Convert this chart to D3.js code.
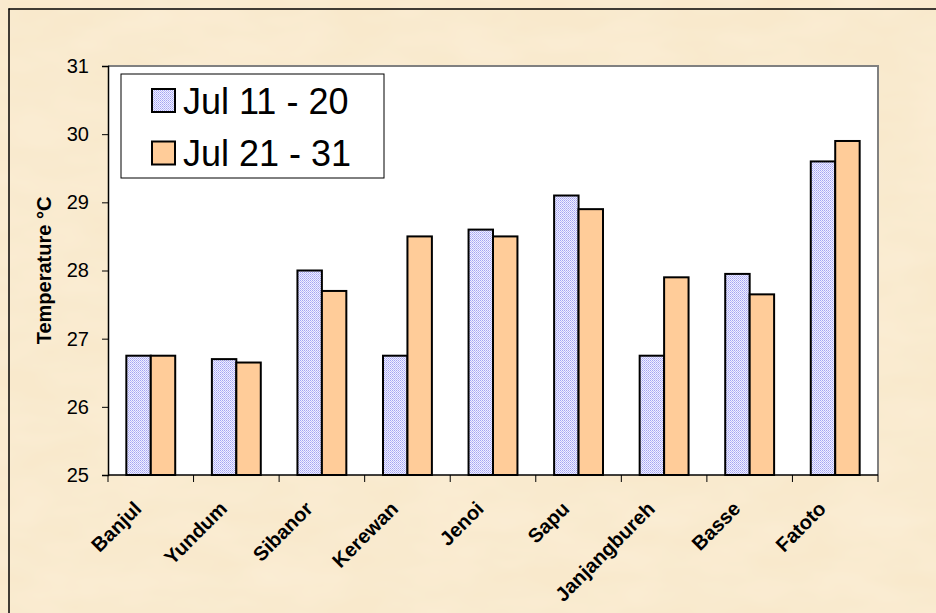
<!DOCTYPE html>
<html><head><meta charset="utf-8">
<script src="https://cdn.jsdelivr.net/npm/d3@7"></script>
<style>html,body{margin:0;padding:0;background:#F9EACF;overflow:hidden}</style>
</head><body>
<svg id="c" width="936" height="613"></svg>
<script>
const categories = ["Banjul","Yundum","Sibanor","Kerewan","Jenoi","Sapu","Janjangbureh","Basse","Fatoto"];
const seriesNames = ["Jul 11 - 20","Jul 21 - 31"];
const jul11_20 = [26.75, 26.7, 28.0, 26.75, 28.6, 29.1, 26.75, 27.95, 29.6];
const jul21_31 = [26.75, 26.65, 27.7, 28.5, 28.5, 28.9, 27.9, 27.65, 29.9];
const yTicks = [25,26,27,28,29,30,31];
const yLabel = "Temperature °C";

const svg = d3.select("#c");
const W = 936, H = 613;
const defs = svg.append("defs");
const FONT = "Arial, 'Liberation Sans', sans-serif";

// parchment texture
const f = defs.append("filter").attr("id","tex").attr("x",0).attr("y",0).attr("width","100%").attr("height","100%");
f.append("feTurbulence").attr("type","fractalNoise").attr("baseFrequency","0.012 0.03").attr("numOctaves",3).attr("seed",4).attr("result","n");
f.append("feColorMatrix").attr("in","n").attr("type","matrix")
  .attr("values","0 0 0 0 1  0 0 0 0 1  0 0 0 0 0.95  0 0 0 0.28 -0.07");
svg.append("rect").attr("width",W).attr("height",H).attr("fill","#F9E9CC");
svg.append("rect").attr("width",W).attr("height",H).attr("filter","url(#tex)");

// blue dotted pattern
const pat = defs.append("pattern").attr("id","bluePat").attr("width",2).attr("height",2).attr("patternUnits","userSpaceOnUse");
pat.append("rect").attr("width",2).attr("height",2).attr("fill","#F0F0FF");
pat.append("rect").attr("x",0).attr("y",0).attr("width",1).attr("height",1).attr("fill","#A4A4F2");
pat.append("rect").attr("x",1).attr("y",1).attr("width",1).attr("height",1).attr("fill","#BCBCF8");

const fills = ["url(#bluePat)", "#FFCC99"];
const series = [jul11_20, jul21_31];

// outer border
svg.append("line").attr("x1",8.5).attr("x2",W).attr("y1",9).attr("y2",9).attr("stroke","#000").attr("stroke-width",1.5);
svg.append("line").attr("x1",9).attr("x2",9).attr("y1",8.5).attr("y2",H).attr("stroke","#000").attr("stroke-width",1.5);

const L = 108, R = 878, T = 66, B = 475;
const x = d3.scaleBand().domain(categories).range([L,R]).paddingInner(0).paddingOuter(0);
const x1 = d3.scaleBand().domain([0,1]).range([0, x.bandwidth()]).paddingOuter(0.75).paddingInner(0);
const y = d3.scaleLinear().domain([25,31]).range([B,T]);

// plot area
svg.append("rect").attr("x",L).attr("y",T).attr("width",R-L).attr("height",B-T).attr("fill","#fff");
svg.append("path").attr("d",`M${L},${T}H${R}V${B}`).attr("fill","none").attr("stroke","#808080").attr("stroke-width",2);

// bars
categories.forEach((c,i)=>{
  series.forEach((s,k)=>{
    svg.append("rect")
      .attr("x", x(c)+x1(k))
      .attr("y", y(s[i]))
      .attr("width", x1.bandwidth())
      .attr("height", y(25)-y(s[i]))
      .attr("fill", fills[k])
      .attr("stroke","#000").attr("stroke-width",2);
  });
});

// y axis
const yAxis = d3.axisLeft(y).tickValues(yTicks).tickSize(6).tickPadding(13).tickFormat(d3.format("d"));
const gy = svg.append("g").attr("transform",`translate(${L},0)`).call(yAxis);
gy.attr("font-size",null).attr("font-family",null);
gy.select(".domain").attr("stroke","#000").attr("stroke-width",1.5);
gy.selectAll(".tick line").attr("stroke","#000").attr("stroke-width",1);
gy.selectAll("text").style("font-family",FONT).style("font-size","20px").attr("fill","#000");

// x axis
const gx = svg.append("g").attr("transform",`translate(0,${B})`);
gx.append("line").attr("x1",L).attr("x2",R).attr("y1",0).attr("y2",0).attr("stroke","#000").attr("stroke-width",1.5);
d3.range(categories.length+1).forEach(i=>{
  const xx = L + i*x.bandwidth();
  gx.append("line").attr("x1",xx).attr("x2",xx).attr("y1",0).attr("y2",7).attr("stroke","#000").attr("stroke-width",1);
});
categories.forEach(c=>{
  const cx = x(c)+x.bandwidth()/2 - 8;
  svg.append("text").text(c)
    .attr("transform",`translate(${cx},${B+35}) rotate(-45)`)
    .attr("text-anchor","end")
    .style("font-family",FONT).style("font-weight","bold").style("font-size","20px").attr("fill","#000");
});

// y label
svg.append("text").text(yLabel)
  .attr("transform",`translate(51,${(T+B)/2}) rotate(-90)`)
  .attr("text-anchor","middle")
  .style("font-family",FONT).style("font-weight","bold").style("font-size","20px").attr("fill","#000");

// legend
const lg = svg.append("g");
lg.append("rect").attr("x",121).attr("y",74).attr("width",263).attr("height",104).attr("fill","#fff").attr("stroke","#000").attr("stroke-width",1);
seriesNames.forEach((n,k)=>{
  const yy = 89 + k*52.5;
  lg.append("rect").attr("x",152).attr("y",yy).attr("width",23).attr("height",23).attr("fill",fills[k]).attr("stroke","#000").attr("stroke-width",2);
  lg.append("text").text(n).attr("x",183).attr("y",yy+24.5)
    .style("font-family",FONT).style("font-size","36px").attr("fill","#000");
});
</script>
</body></html>
